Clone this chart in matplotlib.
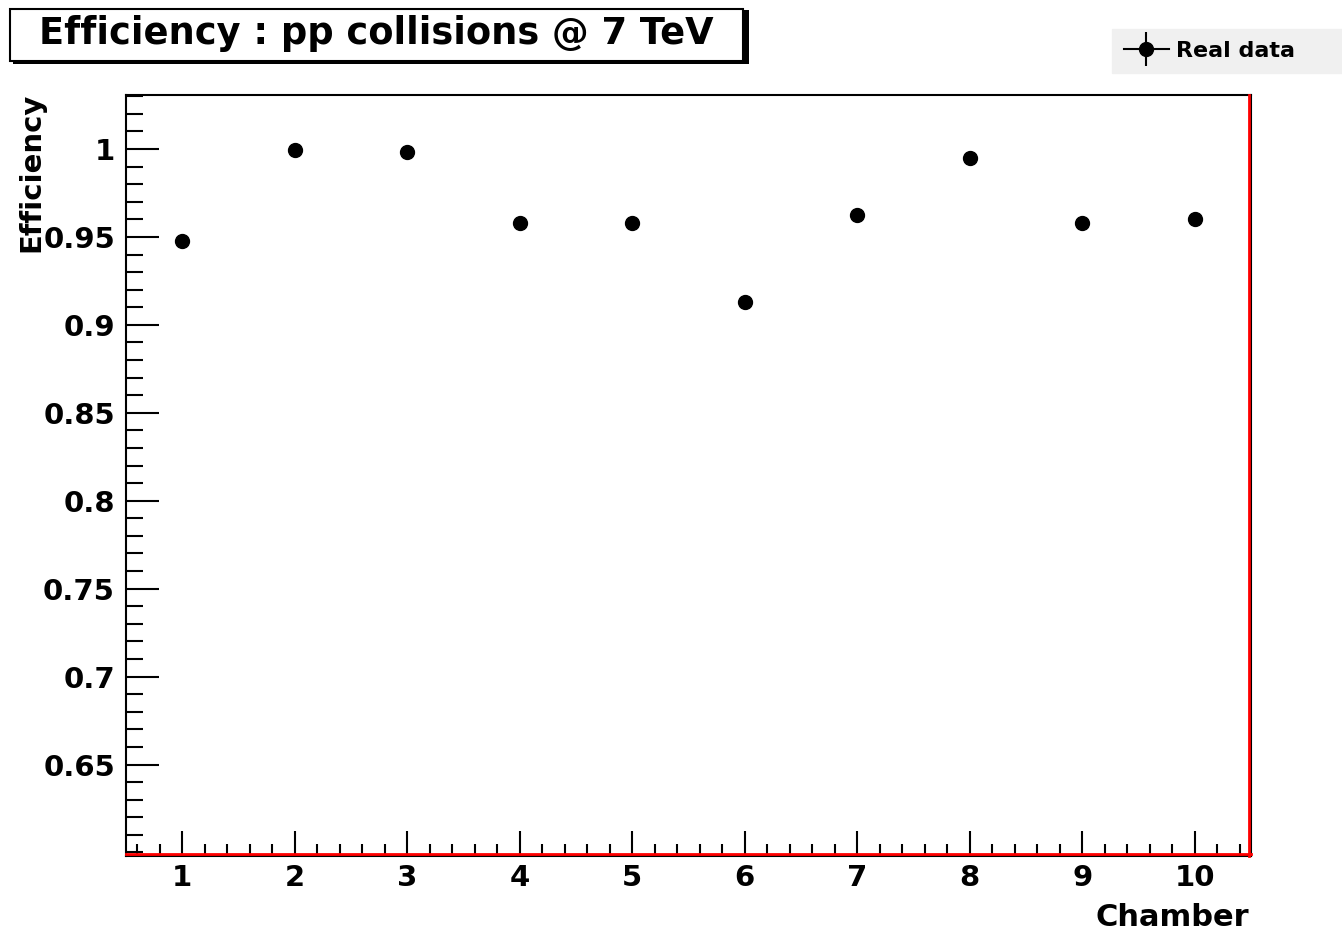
import matplotlib
matplotlib.use("Agg")
import matplotlib.pyplot as plt
from matplotlib.patches import Rectangle
from matplotlib.lines import Line2D
from matplotlib.ticker import MultipleLocator, FixedLocator

chambers = [1, 2, 3, 4, 5, 6, 7, 8, 9, 10]
efficiency = [0.9477, 0.9994, 0.9983, 0.958, 0.958, 0.913, 0.9625, 0.9949, 0.958, 0.960]
ytick_vals = [0.65, 0.7, 0.75, 0.8, 0.85, 0.9, 0.95, 1.0]
ytick_labels = ["0.65", "0.7", "0.75", "0.8", "0.85", "0.9", "0.95", "1"]
title = "Efficiency : pp collisions @ 7 TeV"
legend_label = "Real data"

plt.rcParams['font.family'] = ['DejaVu Sans']
plt.rcParams['font.weight'] = 'bold'

W, H = 1342, 932
fig = plt.figure(figsize=(W / 100, H / 100), dpi=100)
fig.patch.set_facecolor('white')

L, R, B, T = 126, 1251, 856, 95
ax = fig.add_axes([L / W, (H - B) / H, (R - L) / W, (B - T) / H])

ax.plot(chambers, efficiency, 'o', color='black', markersize=10)

ax.set_xlim(0.5, 10.5)
ax.set_ylim(0.598, 1.0307)

ax.xaxis.set_major_locator(FixedLocator(chambers))
ax.xaxis.set_minor_locator(MultipleLocator(0.2))
ax.yaxis.set_major_locator(FixedLocator(ytick_vals))
ax.set_yticklabels(ytick_labels)
ax.yaxis.set_minor_locator(MultipleLocator(0.01))

ax.tick_params(axis='x', which='major', direction='in', length=18, width=1.5, labelsize=21, pad=6)
ax.tick_params(axis='x', which='minor', direction='in', length=9, width=1.5)
ax.tick_params(axis='y', which='major', direction='in', length=24, width=1.5, labelsize=21, pad=8)
ax.tick_params(axis='y', which='minor', direction='in', length=12, width=1.5)
for lab in ax.get_xticklabels() + ax.get_yticklabels():
    lab.set_fontweight('bold')

for s in ax.spines.values():
    s.set_linewidth(1.5)
    s.set_color('black')
ax.plot([0, 1], [0.003, 0.003], transform=ax.transAxes, color='red', lw=2, clip_on=False, zorder=5)
ax.plot([0.998, 0.998], [0, 1], transform=ax.transAxes, color='red', lw=2, clip_on=False, zorder=5)

fig.text(1249 / W, 1 - 917 / H, "Chamber", ha='right', va='center', fontsize=22, fontweight='bold')
fig.text(31 / W, 1 - 93 / H, "Efficiency", ha='center', va='top', rotation=90, fontsize=21, fontweight='bold')

fig.patches.append(Rectangle((13 / W, 1 - 64 / H), (746 - 10) / W, (64 - 10) / H,
                             transform=fig.transFigure, facecolor='black', edgecolor='black', lw=0, zorder=1))
fig.patches.append(Rectangle((10 / W, 1 - 61 / H), (743 - 10) / W, (61 - 9) / H,
                             transform=fig.transFigure, facecolor='white', edgecolor='black', lw=1.5, zorder=2))
fig.text(((10 + 743) / 2) / W, 1 - 34 / H, title, ha='center', va='center', fontsize=26.5,
         fontweight='bold', zorder=3)

h_line = Line2D([], [], color='black', lw=1.5, marker='o', markersize=10)
h_bar = Line2D([], [], color='black', ls='none', marker='|', markersize=24, markeredgewidth=1.5)
leg = fig.legend(handles=[(h_line, h_bar)], labels=[legend_label], loc='center left',
                 bbox_to_anchor=(1112 / W, 1 - 74 / H, (1342 - 1112) / W, 46 / H),
                 frameon=True, fancybox=False, facecolor='#f0f0f0', edgecolor='#f0f0f0',
                 framealpha=1, prop={'size': 16, 'weight': 'bold'}, handlelength=2.0,
                 handletextpad=0.35, borderaxespad=0, borderpad=0.55, mode='expand', numpoints=1)

fig.savefig("out.png", dpi=100)
